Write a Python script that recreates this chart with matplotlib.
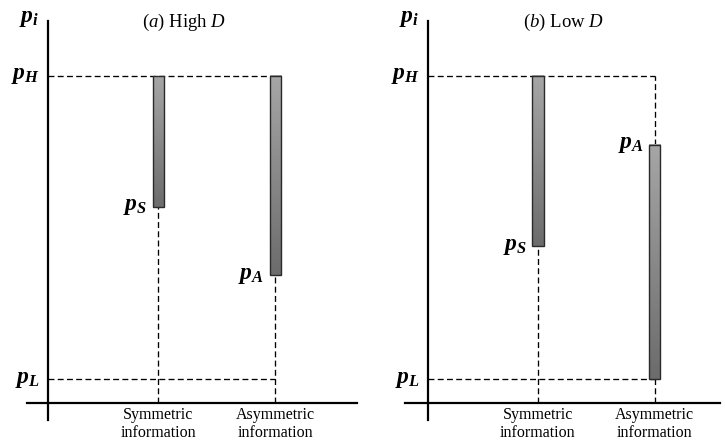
import matplotlib
matplotlib.use("Agg")
import matplotlib.pyplot as plt
import numpy as np
from matplotlib.colors import LinearSegmentedColormap

# price levels (p_H scaled to 10)
p_high = 10.0
p_low = 0.73

categories = ["Symmetric\ninformation", "Asymmetric\ninformation"]
cat_x = [1.0, 2.06]

panel_titles = [r"($\mathit{a}$) High $\mathit{D}$", r"($\mathit{b}$) Low $\mathit{D}$"]
# bar ranges per panel: (top, bottom) for symmetric and asymmetric
bar_tops = [[10.0, 10.0], [10.0, 7.9]]
bar_bottoms = [[6.0, 3.9], [4.8, 0.73]]
bar_labels = [r"$\mathbf{p}_{\mathbf{S}}$", r"$\mathbf{p}_{\mathbf{A}}$"]

plt.rcParams["mathtext.fontset"] = "custom"
plt.rcParams["mathtext.rm"] = "Liberation Serif"
plt.rcParams["mathtext.it"] = "Liberation Serif:italic"
plt.rcParams["mathtext.bf"] = "Liberation Serif:italic:bold"
plt.rcParams["font.family"] = "Liberation Serif"

gray_cmap = LinearSegmentedColormap.from_list("bar", ["#6c6c6c", "#a6a6a6"])
grad = np.linspace(0, 1, 100).reshape(-1, 1)


def draw_panel(ax, title, tops, bottoms, xlim, ylim):
    ax.set_axis_off()
    # axes cross
    ax.plot([0, 0], [ylim[0], 11.68], color="black", lw=1.6, clip_on=False)
    ax.plot([xlim[0], xlim[1]], [0, 0], color="black", lw=1.6, clip_on=False)

    dash = dict(color="black", lw=0.95, linestyle=(0, (4.5, 2.5)), zorder=2)
    x_asym = cat_x[1]
    ax.plot([0, x_asym], [p_high, p_high], **dash)
    ax.plot([0, x_asym], [p_low, p_low], **dash)
    if tops[1] < p_high:
        ax.plot([x_asym, x_asym], [tops[1], p_high], **dash)

    w = 0.104
    for x, top, bot, lab in zip(cat_x, tops, bottoms, bar_labels):
        ax.plot([x, x], [0, bot], **dash)
        ax.imshow(grad, cmap=gray_cmap, origin="lower", aspect="auto",
                  extent=[x - w / 2, x + w / 2, bot, top], zorder=3)
        ax.add_patch(plt.Rectangle((x - w / 2, bot), w, top - bot, fill=False,
                                   edgecolor="#2a2a2a", lw=1.0, zorder=4))
        lab_y = top if top < p_high else bot
        ax.text(x - 0.1, lab_y, lab, ha="right", va="center", fontsize=17)

    for x, cat in zip(cat_x, categories):
        ax.text(x, -0.64, cat, ha="center", va="center", fontsize=11.5,
                linespacing=1.22, clip_on=False)

    ax.text(-0.075, p_high, r"$\mathbf{p}_{\mathbf{H}}$", ha="right", va="center", fontsize=17)
    ax.text(-0.075, p_low, r"$\mathbf{p}_{\mathbf{L}}$", ha="right", va="center", fontsize=17)
    ax.text(-0.08, 11.75, r"$\mathbf{p}_{\mathbf{i}}$", ha="right", va="center", fontsize=17)
    ax.text(1.23, 11.65, title, ha="center", va="center", fontsize=13.5)

    ax.set_xlim(*xlim)
    ax.set_ylim(*ylim)


fig = plt.figure(figsize=(7.25, 4.4), dpi=100)
ylim = (-0.52, 11.71)
ax1 = fig.add_axes([27 / 725, 20 / 440, 330 / 725, 400 / 440])
draw_panel(ax1, panel_titles[0], bar_tops[0], bar_bottoms[0], (-0.19, 2.80), ylim)
ax2 = fig.add_axes([405 / 725, 20 / 440, 315 / 725, 400 / 440])
draw_panel(ax2, panel_titles[1], bar_tops[1], bar_bottoms[1], (-0.209, 2.655), ylim)

fig.savefig("out.png", dpi=100)
